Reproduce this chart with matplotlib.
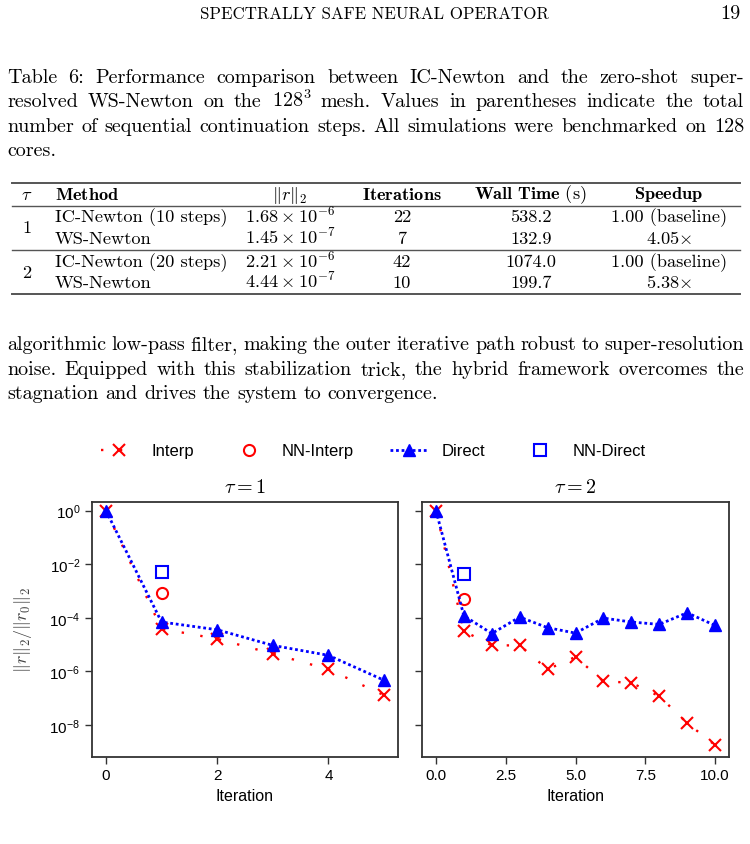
import matplotlib
matplotlib.use('Agg')
import matplotlib.pyplot as plt
from matplotlib.lines import Line2D
from matplotlib.ticker import NullLocator

plt.rcParams['font.family'] = ['Liberation Sans', 'DejaVu Sans']
plt.rcParams['mathtext.fontset'] = 'cm'
plt.rcParams['mathtext.default'] = 'rm'
# 'custom' math font is only used for the tick labels (sans like the axes)
plt.rcParams['mathtext.rm'] = 'Liberation Sans'
plt.rcParams['mathtext.it'] = 'Liberation Sans:italic'
plt.rcParams['mathtext.bf'] = 'Liberation Sans:bold'

#-----data-----
it1 = [0, 1, 2, 3, 4, 5]
interp1 = [1.0, 3.9e-5, 1.65e-5, 4.6e-6, 1.2e-6, 1.3e-7]
direct1 = [1.0, 7.0e-5, 3.6e-5, 9.4e-6, 4.0e-6, 4.7e-7]
nn_interp1 = 8.6e-4
nn_direct1 = 5.3e-3

it2 = [0, 1, 2, 3, 4, 5, 6, 7, 8, 9, 10]
interp2 = [1.0, 3.2e-5, 9.4e-6, 9.4e-6, 1.2e-6, 3.5e-6, 4.3e-7, 3.8e-7, 1.2e-7, 1.2e-8, 1.8e-9]
direct2 = [1.0, 1.2e-4, 2.6e-5, 1.07e-4, 4.3e-5, 2.7e-5, 9.8e-5, 7.0e-5, 5.7e-5, 1.55e-4, 5.2e-5]
nn_interp2 = 5.1e-4
nn_direct2 = 4.4e-3

yticks = [1e0, 1e-2, 1e-4, 1e-6, 1e-8]
ytick_labels = [r'$10^{0}$', r'$10^{-2}$', r'$10^{-4}$', r'$10^{-6}$', r'$10^{-8}$']

tau_vals = ['1', '2']
methods = ['IC-Newton (10 steps)', 'WS-Newton', 'IC-Newton (20 steps)', 'WS-Newton']
res_mant = ['1.68', '1.45', '2.21', '4.44']
res_exp = ['-6', '-7', '-6', '-7']
iters = ['22', '7', '42', '10']
wall = ['538.2', '132.9', '1074.0', '199.7']
speedup = ['1.00 (baseline)', r'4.05$\times$', '1.00 (baseline)', r'5.38$\times$']

caption = ['Table 6:  Performance comparison between IC-Newton and the zero-shot super-',
           'resolved WS-Newton on the 128$^3$ mesh.  Values in parentheses indicate the total',
           'number of sequential continuation steps.  All simulations were benchmarked on 128',
           'cores.']
body = ['algorithmic low-pass filter, making the outer iterative path robust to super-resolution',
        'noise.  Equipped with this stabilization trick, the hybrid framework overcomes the',
        'stagnation and drives the system to convergence.']

W, H = 750, 845
fig = plt.figure(figsize=(W / 100, H / 100), dpi=100)
rend = fig.canvas.get_renderer()
FS = 13.2  # table size


def fx(x):
    return x / W


def fy(y):
    return 1 - y / H


# body font size: full lines should come out near the text width with normal spaces
_w = []
for ln in caption[:-1] + body[:-1]:
    t = fig.text(0, 0, ln, fontsize=13.2, family='cmr10')
    _w.append(t.get_window_extent(rend).width)
    t.remove()
BFS = 13.2 * 728 / (sum(_w) / len(_w))


def justified(line, yb, last=False, x0=7, x1=744):
    words = line.split()
    ts = [fig.text(0, fy(yb), w, fontsize=BFS, family='cmr10', va='baseline') for w in words]
    ws = [t.get_window_extent(rend).width for t in ts]
    if last:
        gap = BFS * 100 / 72 * 0.333
    else:
        gap = (x1 - x0 - sum(ws)) / (len(words) - 1)
    x = x0
    for t, w in zip(ts, ws):
        t.set_x(fx(x))
        x += w + gap


#-----page header-----
hd = fig.text(fx(374), fy(19), 'SPECTRALLY SAFE NEURAL OPERATOR', fontsize=12,
              family='cmr10', ha='center', va='baseline')
hd.set_fontsize(12 * 348 / hd.get_window_extent(rend).width)
fig.text(fx(741), fy(19), '19', fontsize=BFS, family='cmr10', ha='right', va='baseline')

#-----caption-----
for i, ln in enumerate(caption):
    justified(ln, 83 + i * 24.3, last=(i == len(caption) - 1))

#-----table-----
for yy, lw in [(184, 1.4), (206.5, 1.0), (251, 1.0), (294.5, 1.4)]:
    fig.add_artist(Line2D([fx(12), fx(740)], [fy(yy), fy(yy)], color='#555555', lw=lw))

hb = 199.5
fig.text(fx(27), fy(hb), r'$\tau$', fontsize=FS, ha='center', va='baseline')
fig.text(fx(55), fy(hb), r'$\mathbf{Method}$', fontsize=FS, family='cmr10', va='baseline')
fig.text(fx(290), fy(hb), r'$\|\mathit{r}\|_2$', fontsize=FS, ha='center', va='baseline')
fig.text(fx(402), fy(hb), r'$\mathbf{Iterations}$', fontsize=FS, ha='center', va='baseline')
fig.text(fx(530), fy(hb), r'$\mathbf{Wall\ Time}$ (s)', fontsize=FS, family='cmr10',
         ha='center', va='baseline')
fig.text(fx(669), fy(hb), r'$\mathbf{Speedup}$', fontsize=FS, ha='center', va='baseline')

row_b = [222, 243.5, 267, 288]
for k in range(4):
    yb = fy(row_b[k])
    fig.text(fx(55), yb, methods[k], fontsize=FS, family='cmr10', va='baseline')
    fig.text(fx(290), yb, r'$%s\times10^{%s}$' % (res_mant[k], res_exp[k]), fontsize=FS,
             ha='center', va='baseline')
    fig.text(fx(402), yb, iters[k], fontsize=FS, family='cmr10', ha='center', va='baseline')
    fig.text(fx(531), yb, wall[k], fontsize=FS, family='cmr10', ha='center', va='baseline')
    fig.text(fx(669), yb, speedup[k], fontsize=FS, family='cmr10', ha='center', va='baseline')
for g in range(2):
    yb = (row_b[2 * g] + row_b[2 * g + 1]) / 2 + 0.5
    fig.text(fx(27), fy(yb), tau_vals[g], fontsize=FS, family='cmr10', ha='center',
             va='baseline')

#-----body text-----
for i, ln in enumerate(body):
    justified(ln, 350.5 + i * 24.3, last=(i == len(body) - 1))

#-----plots-----
ax1 = fig.add_axes([fx(92), fy(757.5), (398 - 92) / W, (757.5 - 503) / H])
ax2 = fig.add_axes([fx(422), fy(757.5), (729 - 422) / W, (757.5 - 503) / H], sharey=ax1)

panels = [(ax1, it1, interp1, direct1, nn_interp1, nn_direct1, r'$\tau=1$'),
          (ax2, it2, interp2, direct2, nn_interp2, nn_direct2, r'$\tau=2$')]
for ax, it, ip, dr, nni, nnd, ttl in panels:
    ax.plot(it, ip, color='red', ls=(0, (1, 7)), lw=1.7, marker='x', ms=8, mew=1.5,
            label='Interp', zorder=2)
    ax.plot([it[1]], [nni], ls='none', marker='o', ms=8, mfc='none', mec='red', mew=1.5,
            label='NN-Interp', zorder=3)
    ax.plot(it, dr, color='blue', ls=(0, (1, 1)), lw=2, marker='^', ms=9,
            label='Direct', zorder=4)
    ax.plot([it[1]], [nnd], ls='none', marker='s', ms=8, mfc='none', mec='blue', mew=1.5,
            label='NN-Direct', zorder=3)
    ax.set_yscale('log')
    ax.set_title(ttl, fontsize=14.5, pad=7)
    ax.set_xlabel('Iteration', fontsize=11.5, labelpad=4)
    for sp in ax.spines.values():
        sp.set_color('#333333')
        sp.set_linewidth(1.3)
    ax.tick_params(labelsize=11, length=5, width=1, color='#333333')

ax1.set_yticks(yticks, labels=ytick_labels, math_fontfamily='custom')
ax1.yaxis.set_minor_locator(NullLocator())
ax1.set_ylim(10 ** -9.17, 10 ** 0.32)
ax1.set_xticks([0, 2, 4])
ax1.set_xlim(-0.25, 5.25)
ax2.set_xticks([0, 2.5, 5, 7.5, 10])
ax2.set_xlim(-0.5, 10.5)
ax2.tick_params(labelleft=False)
ax1.set_ylabel(r'$\|\mathit{r}\|_2/\|\mathit{r}_0\|_2$', fontsize=13, color='#444444')
ax1.yaxis.set_label_coords(-0.19, 0.5)

h, l = ax1.get_legend_handles_labels()
fig.legend(h, l, loc='center', bbox_to_anchor=(fx(373), fy(452)), ncol=4, frameon=False,
           fontsize=12, handlelength=2.2, handletextpad=0.85, columnspacing=2.2)

fig.savefig('out.png', dpi=100)
